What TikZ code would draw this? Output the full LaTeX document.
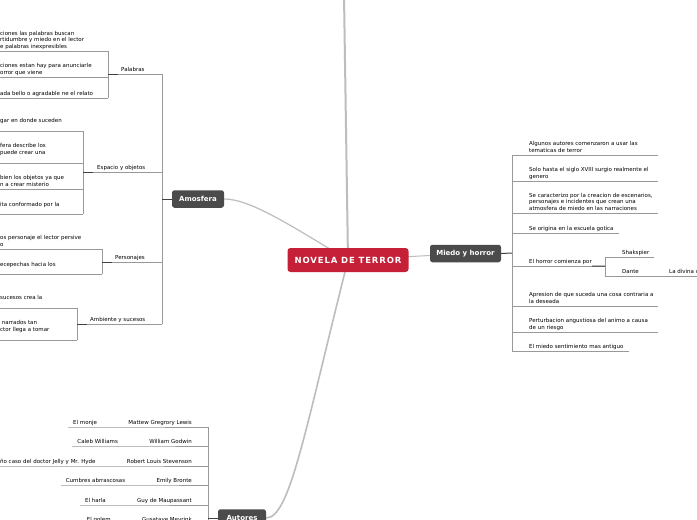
\documentclass[tikz,border=0pt]{standalone}
\usepackage{fontspec}
\setmainfont{DejaVu Sans}
\usetikzlibrary{backgrounds}

\definecolor{terror}{HTML}{C61F38}
\definecolor{topicgray}{HTML}{4B4B4B}
\definecolor{trunk}{HTML}{BDBDBD}
\newcommand{\leaffont}{\fontsize{5.5}{6.5}\selectfont}

\begin{document}
\begin{tikzpicture}[x=1pt,y=-1pt,
   main/.style={rounded corners=3pt,fill=terror,text=white,
     font=\bfseries\fontsize{8.5}{10}\selectfont\addfontfeature{LetterSpace=10},
     minimum width=121pt,minimum height=24pt,inner sep=0pt},
   topic/.style={rounded corners=2.5pt,fill=topicgray,text=white,
     font=\bfseries\fontsize{7}{8}\selectfont,minimum height=17.5pt,inner sep=0pt},
   leaf/.style={anchor=south west,font=\leaffont,align=left,inner xsep=0pt,
     inner ysep=0.7pt,execute at end node=\strut},
   wide/.style={inner ysep=6.7pt},
   leafline/.style={draw=black!40,line width=0.6pt},
   stub/.style={draw=black!75,line width=1pt},
   trunkline/.style={draw=trunk,line width=#1}]
\useasboundingbox (0,0) rectangle (697,520);

% topics
\node[main] (nov) at (348,260) {NOVELA DE TERROR};
\node[topic,minimum width=52pt] (amo) at (198,199) {Amosfera};
\node[topic,minimum width=71pt] (mie) at (465.5,253.5) {Miedo y horror};
\node[topic,minimum width=48pt] (aut) at (242,518) {Autores};

\coordinate (up) at (344,-5);
\coordinate (amv) at (162,199);
\coordinate (pv) at (108,74);
\coordinate (ev) at (83,172);
\coordinate (cv) at (102,262);
\coordinate (sv) at (77,324);
\coordinate (mv) at (512,253);
\coordinate (mend) at (658,253);
\coordinate (hv) at (605,266);
\coordinate (av) at (208,518);

\begin{pgfonlayer}{background}
\fill[white] (0,0) rectangle (697,520);
\draw[trunkline=2pt] (up) -- (nov.center);
\draw[trunkline=1.2pt] (amo.east) .. controls (250,199) and (290,225) .. (nov.center);
\draw[trunkline=1pt] (nov.center) -- (mie.center);
\draw[trunkline=1.6pt] (nov.center) .. controls (305,430) and (290,518) .. (aut.east);
\end{pgfonlayer}

% Amosfera
\node[leaf,inner xsep=13pt] (pal) at (pv) {Palabras};
\node[leaf,inner xsep=14pt] (esp) at (ev) {Espacio y objetos};
\node[leaf,inner xsep=13pt] (per) at (cv) {Personajes};
\node[leaf,inner xsep=13pt] (amb) at (sv) {Ambiente y sucesos};

\node[leaf] (p1) at (0,51) {ciones las palabras buscan\\rtidumbre y miedo en el lector\\e palabras inexpresibles};
\node[leaf] (p2) at (0,77) {ciones estan hay para anunciarle\\orror que viene};
\node[leaf] (p3) at (0,98) {ada bello o agradable ne el relato};

\node[leaf,wide] (e1) at (0,131) {gar en donde suceden};
\node[leaf,wide] (e2) at (0,163) {fera describe los\\puede crear una};
\node[leaf] (e3) at (0,189) {bien los objetos ya que\\n a crear misterio};
\node[leaf,inner ysep=5.7pt] (e4) at (0,214) {ita conformado por la};

\node[leaf] (c1) at (0,249) {os personaje el lector persive\\o};
\node[leaf,inner ysep=5.7pt] (c2) at (0,274) {ecepechas hacia los};

\node[leaf,wide] (s1) at (0,308) {sucesos crea la};
\node[leaf,wide] (s2) at (0,340) {\ narrados tan\\ctor llega a tomar};

\draw[leafline] (pal.south west) -- (pal.south west -| amv)
  (esp.south west) -- (esp.south west -| amv)
  (per.south west) -- (per.south west -| amv)
  (amb.south west) -- (amb.south west -| amv)
  (pal.south west -| amv) -- (amb.south west -| amv);
\draw[leafline] (p1.south west) -- (p1.south west -| pv)
  (p2.south west) -- (p2.south west -| pv)
  (p3.south west) -- (p3.south west -| pv)
  (p1.south west -| pv) -- (p3.south west -| pv);
\draw[leafline] (e1.south west) -- (e1.south west -| ev)
  (e2.south west) -- (e2.south west -| ev)
  (e3.south west) -- (e3.south west -| ev)
  (e4.south west) -- (e4.south west -| ev)
  (e1.south west -| ev) -- (e4.south west -| ev);
\draw[leafline] (c1.south west) -- (c1.south west -| cv)
  (c2.south west) -- (c2.south west -| cv)
  (c1.south west -| cv) -- (c2.south west -| cv);
\draw[leafline] (s1.south west) -- (s1.south west -| sv)
  (s2.south west) -- (s2.south west -| sv)
  (s1.south west -| sv) -- (s2.south west -| sv);
\draw[stub] (amo.west) -- (amv)
  (pal.south west) -- ([xshift=10pt]pal.south west)
  (esp.south west) -- ([xshift=10pt]esp.south west)
  (per.south west) -- ([xshift=10pt]per.south west)
  (amb.south west) -- ([xshift=10pt]amb.south west);

% Miedo y horror
\node[leaf] (r1) at (529,155) {Algunos autores comenzaron a usar las\\tematicas de terror};
\node[leaf] (r2) at (529,181) {Solo hasta el siglo XVIII surgio realmente el\\genero};
\node[leaf] (r3) at (529,213) {Se caracterizo por la creacion de escenarios,\\personajes e incidentes que crean una\\atmosfera de miedo en las narraciones};
\node[leaf] (r4) at (529,233) {Se origina en la escuela gotica};
\node[leaf] (r5) at (529,266) {El horror comienza por};
\node[leaf] (r6) at (529,306) {Apresion de que suceda una cosa contraria a\\la deseada};
\node[leaf] (r7) at (529,332) {Perturbacion angustiosa del animo a causa\\de un riesgo};
\node[leaf] (r8) at (529,351) {El miedo sentimiento mas antiguo};

\node[leaf] (h1) at (622,257) {Shakspier};
\node[leaf] (h2) at (622,276) {Dante};
\node[leaf] (h3) at (669,276) {La divina c};

\draw[leafline] (r1.south west -| mv) -- (r1.south west -| mend)
  (r2.south west -| mv) -- (r2.south west -| mend)
  (r3.south west -| mv) -- (r3.south west -| mend)
  (r4.south west -| mv) -- ([xshift=5pt]r4.south east)
  (r5.south west -| mv) -- (hv)
  (r6.south west -| mv) -- (r6.south west -| mend)
  (r7.south west -| mv) -- (r7.south west -| mend)
  (r8.south west -| mv) -- ([xshift=5pt]r8.south east)
  (r1.south west -| mv) -- (r8.south west -| mv);
\draw[leafline] (h1.south west -| hv) -- ([xshift=5pt]h1.south east)
  (h2.south west -| hv) -- ([xshift=-9pt]h3.south west)
  ([xshift=-9pt]h3.south west) -- ([xshift=30pt]h3.south east)
  (h1.south west -| hv) -- (h2.south west -| hv);
\draw[stub] (mie.east) -- (mv)
  (r5.south east) -- (hv);

% Autores
\node[leaf,anchor=south east,inner xsep=5pt] (a1) at (197,427) {Mattew Gregrory Lewis};
\node[leaf,anchor=south east,inner xsep=5pt] (a2) at (197,446) {William Godwin};
\node[leaf,anchor=south east,inner xsep=5pt] (a3) at (197,466) {Robert Louis Stevenson};
\node[leaf,anchor=south east,inner xsep=5pt] (a4) at (197,485) {Emily Bronte};
\node[leaf,anchor=south east,inner xsep=5pt] (a5) at (197,505) {Guy de Maupassant};
\node[leaf,anchor=south east,inner xsep=5pt] (a6) at (197,524) {Gusatave Meyrink};

\node[leaf,anchor=south east,inner xsep=5pt] (w1) at ([xshift=-21pt]a1.south west) {El monje};
\node[leaf,anchor=south east,inner xsep=5pt] (w2) at ([xshift=-21pt]a2.south west) {Caleb Williams};
\node[leaf,anchor=south east,inner xsep=5pt] (w3) at ([xshift=-21pt]a3.south west) {ño caso del doctor Jelly y Mr. Hyde};
\node[leaf,anchor=south east,inner xsep=5pt] (w4) at ([xshift=-21pt]a4.south west) {Cumbres abrrascosas};
\node[leaf,anchor=south east,inner xsep=5pt] (w5) at ([xshift=-21pt]a5.south west) {El harla};
\node[leaf,anchor=south east,inner xsep=5pt] (w6) at ([xshift=-21pt]a6.south west) {El golem};

\draw[leafline] (w1.south west) -- (a1.south west) -- (a1.south west -| av)
  (w2.south west) -- (a2.south west) -- (a2.south west -| av)
  (w3.south west) -- (a3.south west) -- (a3.south west -| av)
  (w4.south west) -- (a4.south west) -- (a4.south west -| av)
  (w5.south west) -- (a5.south west) -- (a5.south west -| av)
  (w6.south west) -- (a6.south west) -- (a6.south west -| av)
  (a1.south west -| av) -- (a6.south west -| av);
\draw[stub] (aut.west) -- (av);
\end{tikzpicture}
\end{document}
